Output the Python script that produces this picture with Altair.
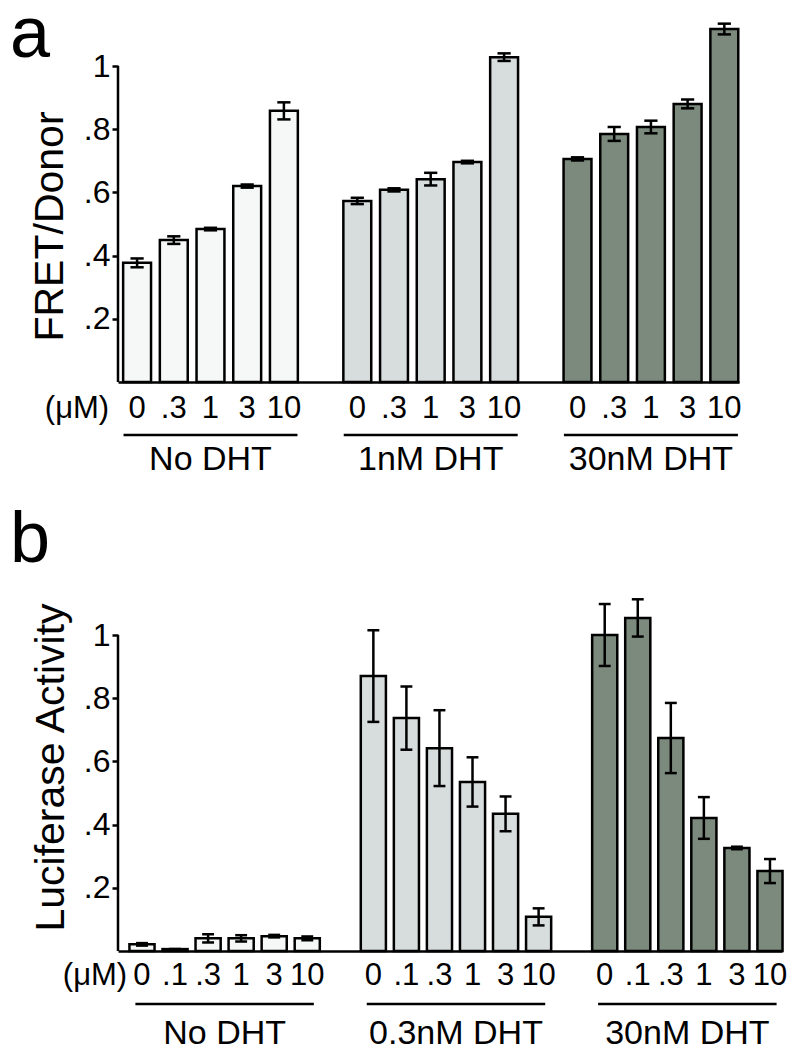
import altair as alt
import pandas as pd

# ---------------- data ----------------
# panel a : FRET/Donor
conc_a = ["0", ".3", "1", "3", "10"]
groups_a = ["No DHT", "1nM DHT", "30nM DHT"]
fret_no = [0.377, 0.449, 0.484, 0.620, 0.858]
fret_no_err = [0.014, 0.012, 0.004, 0.005, 0.027]
fret_1nm = [0.573, 0.608, 0.642, 0.696, 1.028]
fret_1nm_err = [0.010, 0.005, 0.020, 0.004, 0.012]
fret_30nm = [0.706, 0.785, 0.807, 0.880, 1.117]
fret_30nm_err = [0.005, 0.022, 0.020, 0.014, 0.017]

# panel b : Luciferase activity
conc_b = ["0", ".1", ".3", "1", "3", "10"]
groups_b = ["No DHT", "0.3nM DHT", "30nM DHT"]
luc_no = [0.021, 0.006, 0.040, 0.040, 0.047, 0.040]
luc_no_err = [0.004, 0.0, 0.013, 0.010, 0.004, 0.006]
luc_03nm = [0.870, 0.737, 0.642, 0.535, 0.434, 0.108]
luc_03nm_err = [0.145, 0.100, 0.120, 0.078, 0.055, 0.027]
luc_30nm = [1.000, 1.054, 0.674, 0.421, 0.326, 0.253]
luc_30nm_err = [0.098, 0.059, 0.111, 0.066, 0.004, 0.038]

y_ticks = [0.2, 0.4, 0.6, 0.8, 1.0]
levels = ["none", "low", "high"]

# ---------------- styles ----------------
level_colors = ["#f6f8f8", "#d7dcdd", "#7b8a7c"]
FONT = "Liberation Sans, Arial, Helvetica, sans-serif"
BAR_HALF = 0.38
CAP_HALF = 0.18
LW = 2.5
TICK_FS = 31
GROUP_FS = 34


def build_panel(letter, ytitle, groups, concs, means, errs, width, height,
                xdom, ydom, ul_half, lab_y, ul_y, grp_y, unit_x, title_x,
                title_y, letter_y):
    rows, grows = [], []
    slot = 0
    for gi, (g, m, e) in enumerate(zip(groups, means, errs)):
        first = slot
        for c, v, d in zip(concs, m, e):
            rows.append(dict(slot=slot, label=c, level=levels[gi], mean=v,
                             lo=v - d, hi=v + d,
                             bl=slot - BAR_HALF, br=slot + BAR_HALF,
                             cl=slot - CAP_HALF, cr=slot + CAP_HALF))
            slot += 1
        mid = (first + slot - 1) / 2
        grows.append(dict(name=g, mid=mid, gl=mid - ul_half, gr=mid + ul_half))
        slot += 1
    df = pd.DataFrame(rows)
    gdf = pd.DataFrame(grows)

    xs = alt.Scale(domain=xdom, zero=False, nice=False)
    ys = alt.Scale(domain=ydom, zero=False, nice=False)

    yaxis = alt.Axis(
        values=y_ticks,
        labelExpr="datum.value >= 0.999 ? '1' : '.' + round(datum.value * 10)",
        domain=False, grid=False, ticks=True, tickSize=6, tickWidth=LW,
        tickColor="black", labelFontSize=32, labelColor="black",
        labelFont=FONT, labelPadding=2,
        title=ytitle, titleFont=FONT, titleFontSize=41,
        titleFontWeight="normal", titleColor="black", titleAngle=270,
        titleX=title_x, titleY=title_y, titleAlign="center",
        titleBaseline="alphabetic")
    xaxis = alt.Axis(domain=True, domainColor="black", domainWidth=LW,
                     ticks=False, labels=False, grid=False, title=None)

    def X(field):
        return alt.X(field, scale=xs, axis=xaxis)

    def Y(field):
        return alt.Y(field, scale=ys, axis=yaxis)

    base = alt.Chart(df)

    bars = base.mark_bar(stroke="black", strokeWidth=LW).encode(
        x=X("bl:Q"), x2="br:Q",
        y=Y("mean:Q"), y2=alt.datum(0),
        fill=alt.Fill("level:N", scale=alt.Scale(domain=levels, range=level_colors),
                      legend=None),
    )
    err = base.mark_rule(color="black", strokeWidth=LW).encode(
        x=X("slot:Q"), y=Y("lo:Q"), y2="hi:Q")
    cap_hi = base.mark_rule(color="black", strokeWidth=LW).encode(
        x=X("cl:Q"), x2="cr:Q", y=Y("hi:Q"))
    cap_lo = base.mark_rule(color="black", strokeWidth=LW).encode(
        x=X("cl:Q"), x2="cr:Q", y=Y("lo:Q"))
    yline = alt.Chart(pd.DataFrame({"y0": [0.0], "y1": [max(y_ticks)]})).mark_rule(
        color="black", strokeWidth=LW).encode(
        x=alt.value(0), y=Y("y0:Q"), y2="y1:Q")
    xlabels = base.mark_text(font=FONT, fontSize=TICK_FS, align="center",
                             baseline="alphabetic", color="black").encode(
        x=X("slot:Q"), y=alt.value(lab_y), text="label:N")
    unit = alt.Chart(pd.DataFrame({"t": ["(\u03bcM)"]})).mark_text(
        font=FONT, fontSize=TICK_FS, align="center", baseline="alphabetic",
        color="black").encode(x=alt.value(unit_x), y=alt.value(lab_y), text="t:N")
    uline = alt.Chart(gdf).mark_rule(color="black", strokeWidth=LW).encode(
        x=X("gl:Q"), x2="gr:Q", y=alt.value(ul_y))
    gname = alt.Chart(gdf).mark_text(font=FONT, fontSize=GROUP_FS, align="center",
                                     baseline="alphabetic", color="black").encode(
        x=X("mid:Q"), y=alt.value(grp_y), text="name:N")
    let = alt.Chart(pd.DataFrame({"t": [letter]})).mark_text(
        font=FONT, fontSize=72, align="left", baseline="alphabetic",
        color="black").encode(x=alt.value(-108), y=alt.value(letter_y), text="t:N")

    return alt.layer(bars, err, cap_hi, cap_lo, yline, xlabels, unit, uline,
                     gname, let).properties(width=width, height=height)


panel_a = build_panel(
    "a", "FRET/Donor", groups_a, conc_a,
    [fret_no, fret_1nm, fret_30nm], [fret_no_err, fret_1nm_err, fret_30nm_err],
    width=621, height=366, xdom=[-0.52, 16.40], ydom=[0, 366 / 316],
    ul_half=2.37, lab_y=402, ul_y=419, grp_y=454, unit_x=-41,
    title_x=-56, title_y=210, letter_y=41)

panel_b = build_panel(
    "b", "Luciferase Activity", groups_b, conc_b,
    [luc_no, luc_03nm, luc_30nm], [luc_no_err, luc_03nm_err, luc_30nm_err],
    width=664, height=366, xdom=[-0.726, 19.364], ydom=[0, 366 / 316],
    ul_half=2.7, lab_y=400, ul_y=419, grp_y=459, unit_x=-23,
    title_x=-55, title_y=182, letter_y=-23)

chart = alt.vconcat(panel_a, panel_b, spacing=203, bounds="flush").properties(
    padding={"left": 2, "top": -9, "right": 4, "bottom": 0}
).configure_view(stroke=None)

chart.save("out.html", embed_options={"renderer": "svg", "actions": False})
